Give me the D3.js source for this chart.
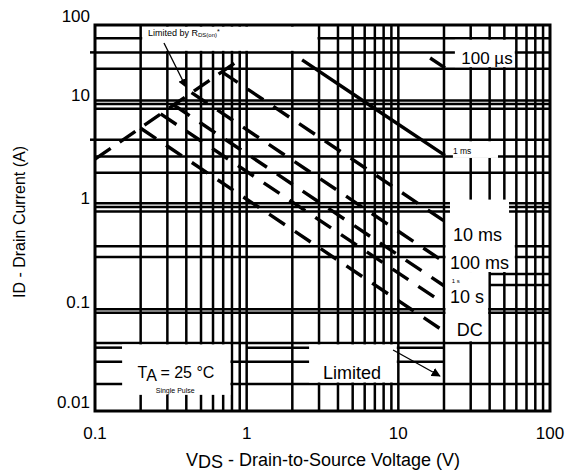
<!DOCTYPE html>
<html>
<head>
<meta charset="utf-8">
<script src="https://cdn.jsdelivr.net/npm/d3@7"></script>
<style>
  body { margin: 0; background: #fff; }
  text { font-family: "Liberation Sans", Arial, sans-serif; fill: #000; }
</style>
</head>
<body>
<svg id="chart" width="567" height="472"></svg>
<script>
// ---- axis ticks ----
const xTicks = [0.1, 1, 10, 100];
const xTickLabels = ["0.1", "1", "10", "100"];
const yTicks = [100, 10, 1, 0.1, 0.01];
const yTickLabels = ["100", "10", "1", "0.1", "0.01"];

// ---- grid values ----
const xGrid = [0.2, 0.3, 0.4, 0.5, 0.6, 0.7, 0.8, 0.9, 1,
               2, 3, 4, 5, 6, 7, 8, 9, 10,
               20, 30, 40, 50, 60, 70, 80, 90];
const yGrid = [68, 45, 28, 11.1, 10, 9.0, 4.5, 3.1, 2.15,
               1.086, 1, 0.906, 0.42, 0.33, 0.1038, 0.0963,
               0.048, 0.0186];
// grid lines that only run part of the way: [ID, VDS from, VDS to]
const yGridPart = [[0.227, 40, 100], [0.178, 40, 100],
                   [0.043, 0.1, 0.151], [0.043, 1, 20],
                   [0.031, 0.1, 20]];

// ---- safe operating area boundaries, [VDS (V), ID (A)] ----
const rdsLimit   = [[0.1, 2.92], [0.337, 10], [0.932, 38.2]];
const pulse100us = [[16.2, 38.2], [20.3, 28.6]];
const pulse1ms   = [[2.32, 36.1], [6.3, 10], [20.3, 3.17]];
const pulse10ms  = [[0.686, 25.5], [1.42, 10], [20, 0.736]];
const pulse100ms = [[0.433, 13.9], [0.56, 10], [20, 0.297]];
const pulse1s    = [[0.331, 9.78], [20, 0.175]];
const pulse10s   = [[0.271, 8.01], [20, 0.118]];
const dcLimit    = [[0.199, 5.85], [20, 0.0627]];

const svg = d3.select("#chart");
const L = 95, R = 550, T = 25, B = 411;

const x = d3.scaleLog().domain([0.1, 100]).range([L, R]);
// decades are not evenly spaced on this sheet
const y = d3.scaleLog().domain([0.01, 0.1, 1, 10, 100]).range([B, 311, 207, 104, T]);

const gridW = 2.5;

// ---- grid ----
const grid = svg.append("g").attr("stroke", "#000").attr("stroke-width", gridW);
grid.selectAll("line.v").data(xGrid).join("line")
  .attr("class", "v")
  .attr("x1", d => x(d)).attr("x2", d => x(d))
  .attr("y1", T).attr("y2", B);
grid.selectAll("line.h").data(yGrid).join("line")
  .attr("class", "h")
  .attr("x1", L).attr("x2", R)
  .attr("y1", d => y(d)).attr("y2", d => y(d));
grid.selectAll("line.p").data(yGridPart).join("line")
  .attr("class", "p")
  .attr("x1", d => x(d[1])).attr("x2", d => x(d[2]))
  .attr("y1", d => y(d[0])).attr("y2", d => y(d[0]));
// short outside ticks
grid.selectAll("line.t").data([45, 4.5]).join("line")
  .attr("class", "t")
  .attr("x1", L - 5).attr("x2", L)
  .attr("y1", d => y(d)).attr("y2", d => y(d));

// ---- white panels behind the annotations ----
const pad = gridW / 2 + 0.3;
function panel(v0, v1, a0, a1, inset) {
  const ins = inset || [pad, pad, pad, pad];
  const x0 = x(v0) + ins[0], x1 = x(v1) - ins[1];
  const y0 = y(a0) + ins[2], y1 = y(a1) - ins[3];
  svg.append("rect")
    .attr("x", x0).attr("y", y0)
    .attr("width", x1 - x0).attr("height", y1 - y0)
    .attr("fill", "#fff");
}
panel(0.2, 3, 100, 45);
panel(23.6, 60, 68, 28, [0, pad, pad, pad]);
panel(22.9, 45.4, 4.5, 3.1, [0, 0, pad, -pad]);
panel(21.9, 53.7, 1.18, 0.33, [0, 0, 0, pad]);
panel(20, 60, 0.42, 0.237, [pad, pad, -pad, 0]);
panel(20, 40, 0.237, 0.048, [pad, pad, 0, pad]);
panel(0.151, 0.8, 0.048, 0.0145, [0, pad, pad, 0]);
panel(2.58, 10, 0.048, 0.0186, [0, pad, pad, pad]);

// ---- frame ----
svg.append("rect")
  .attr("x", L).attr("y", T).attr("width", R - L).attr("height", B - T)
  .attr("fill", "none").attr("stroke", "#000").attr("stroke-width", 3);

// ---- boundaries ----
const line = d3.line().x(d => x(d[0])).y(d => y(d[1]));
const curves = [
  { data: rdsLimit, dash: "19,11" },
  { data: pulse100us, dash: null },
  { data: pulse1ms, dash: null },
  { data: pulse10ms, dash: "19,12" },
  { data: pulse100ms, dash: "19,12" },
  { data: pulse1s, dash: "19,12" },
  { data: pulse10s, dash: "19,12" },
  { data: dcLimit, dash: "19,12" }
];
svg.append("g").selectAll("path").data(curves).join("path")
  .attr("d", d => line(d.data))
  .attr("fill", "none")
  .attr("stroke", "#000")
  .attr("stroke-width", 3.4)
  .attr("stroke-dasharray", d => d.dash);

// ---- arrows ----
svg.append("defs").append("marker")
  .attr("id", "head").attr("viewBox", "0 0 10 10")
  .attr("refX", 9).attr("refY", 5)
  .attr("markerWidth", 9).attr("markerHeight", 9)
  .attr("markerUnits", "userSpaceOnUse")
  .attr("orient", "auto")
  .append("path").attr("d", "M0,0L10,5L0,10z").attr("fill", "#000");
const arrows = [
  [[0.285, 59.2], [0.398, 16.4]],
  [[9.23, 0.0407], [18.8, 0.0224]]
];
svg.append("g").selectAll("line").data(arrows).join("line")
  .attr("x1", d => x(d[0][0])).attr("y1", d => y(d[0][1]))
  .attr("x2", d => x(d[1][0])).attr("y2", d => y(d[1][1]))
  .attr("stroke", "#000").attr("stroke-width", 1.3)
  .attr("marker-end", "url(#head)");

// ---- annotations ----
function note(v, a, size, anchor) {
  return svg.append("text")
    .attr("x", x(v)).attr("y", y(a))
    .attr("dominant-baseline", "central")
    .attr("text-anchor", anchor || "start")
    .attr("font-size", size);
}
const rds = note(0.2236, 78.5, 9);
rds.append("tspan").text("Limited by R");
rds.append("tspan").attr("font-size", 6).attr("dy", 1.5).text("DS(on)");
rds.append("tspan").attr("font-size", 7).attr("dy", -4).text("*");

note(38.4, 38.2, 17, "middle").text("100 µs");
note(22.9, 3.52, 8.5).text("1 ms");
note(22.9, 0.538, 18).text("10 ms");
note(21.9, 0.29, 18).text("100 ms");
note(22.5, 0.196, 6).text("1 s");
note(21.9, 0.136, 18).text("10 s");
note(24.3, 0.0646, 18).text("DC");
note(3.19, 0.024, 18).text("Limited");
const ta = note(0.342, 0.0247, 16, "middle");
ta.append("tspan").text("T");
ta.append("tspan").attr("dy", 3).text("A");
ta.append("tspan").attr("dy", -3).text(" = 25 °C");
note(0.338, 0.0162, 7, "middle").text("Single Pulse");

// ---- tick labels ----
svg.append("g").selectAll("text").data(yTicks).join("text")
  .attr("x", L - 5)
  .attr("y", d => Math.min(y(d) - 9, B - 3))
  .attr("text-anchor", "end")
  .attr("dominant-baseline", "central")
  .attr("font-size", 17)
  .text((d, i) => yTickLabels[i]);
svg.append("g").selectAll("text").data(xTicks).join("text")
  .attr("x", d => x(d))
  .attr("y", 433)
  .attr("text-anchor", "middle")
  .attr("dominant-baseline", "central")
  .attr("font-size", 17)
  .text((d, i) => xTickLabels[i]);

// ---- axis titles ----
const xt = svg.append("text")
  .attr("x", 323).attr("y", 460)
  .attr("text-anchor", "middle").attr("dominant-baseline", "central")
  .attr("font-size", 18);
xt.append("tspan").text("V");
xt.append("tspan").attr("dy", 2).text("DS");
xt.append("tspan").attr("dy", -2).text(" - Drain-to-Source Voltage (V)");

svg.append("text")
  .attr("transform", `translate(19,${(T + B) / 2 + 4}) rotate(-90)`)
  .attr("text-anchor", "middle").attr("dominant-baseline", "central")
  .attr("font-size", 16)
  .text("ID - Drain Current (A)");
</script>
</body>
</html>
